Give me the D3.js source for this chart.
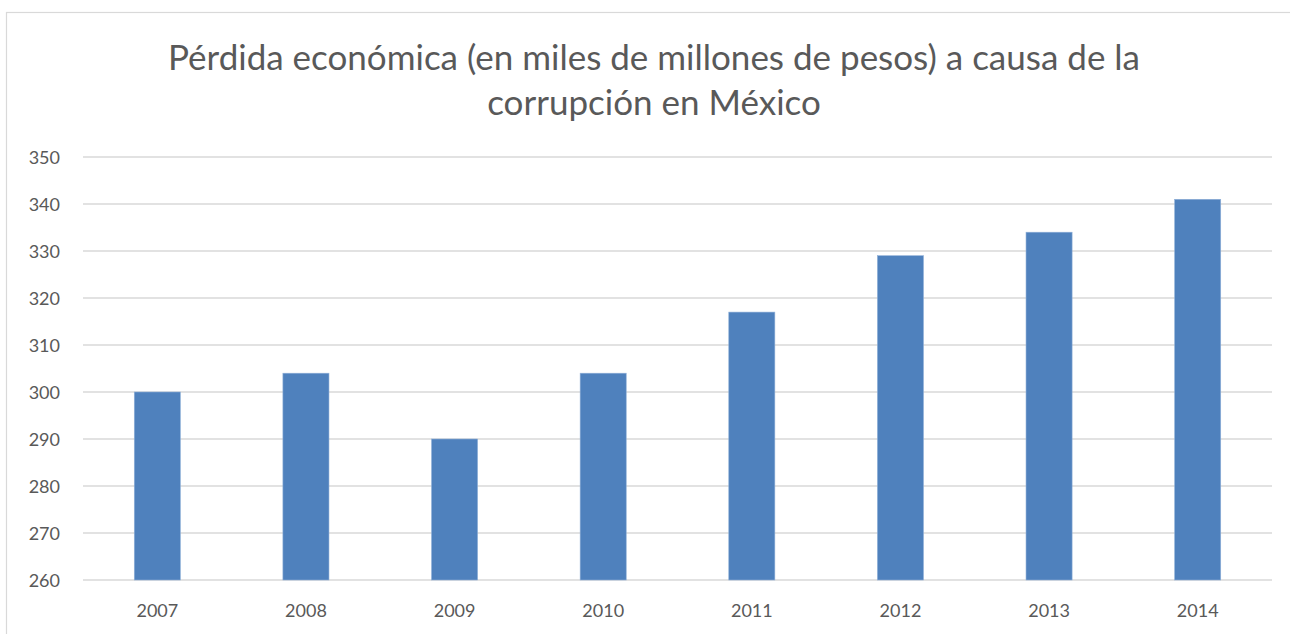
<!DOCTYPE html>
<html>
<head>
<meta charset="utf-8">
<script src="https://cdn.jsdelivr.net/npm/d3@7"></script>
<style>
  body { margin: 0; background: #fff; }
  text { font-family: Lato, "Open Sans", sans-serif; fill: #595959; }
</style>
</head>
<body>
<div id="chart"></div>
<script>
var years = ["2007", "2008", "2009", "2010", "2011", "2012", "2013", "2014"];
var losses = [300, 304, 290, 304, 317, 329, 334, 341];
var yTicks = [260, 270, 280, 290, 300, 310, 320, 330, 340, 350];
var titleLines = ["Pérdida económica (en miles de millones de pesos) a causa de la",
                  "corrupción en México"];

var width = 1290, height = 634;
var plotLeft = 83, plotRight = 1272, plotTop = 157, plotBottom = 580;

var svg = d3.select("#chart")
    .append("svg")
    .attr("width", width)
    .attr("height", height);

// chart frame
svg.append("rect")
    .attr("x", 6.5).attr("y", 12.5)
    .attr("width", 1300).attr("height", 700)
    .attr("fill", "none")
    .attr("stroke", "#d9d9d9")
    .attr("stroke-width", 1.2);

var x = d3.scaleBand().domain(years).range([plotLeft, plotRight]).paddingInner(0.69).paddingOuter(0.345);
var y = d3.scaleLinear().domain([260, 350]).range([plotBottom, plotTop]);

// gridlines
svg.append("g")
    .selectAll("line")
    .data(yTicks)
    .enter()
    .append("line")
    .attr("x1", plotLeft).attr("x2", plotRight)
    .attr("y1", function(d) { return y(d); })
    .attr("y2", function(d) { return y(d); })
    .attr("stroke", "#d9d9d9")
    .attr("stroke-width", 1.5);

// bars
svg.append("g")
    .selectAll("rect")
    .data(years)
    .enter()
    .append("rect")
    .attr("x", function(d) { return x(d); })
    .attr("y", function(d, i) { return y(losses[i]); })
    .attr("width", x.bandwidth())
    .attr("height", function(d, i) { return y(260) - y(losses[i]); })
    .attr("fill", "#4f81bd")
    .attr("stroke", "#8fb0d8")
    .attr("stroke-width", 0.6);

// y axis labels
var yAxis = d3.axisLeft(y).tickValues(yTicks).tickSize(0).tickPadding(0);
var gy = svg.append("g").attr("transform", "translate(60,0)").call(yAxis);
gy.select(".domain").remove();
gy.selectAll("text")
    .style("font-size", "18px")
    .style("font-family", "Lato, 'Open Sans', sans-serif")
    .attr("fill", "#595959")
    .attr("dy", "0.35em");

// x axis labels
var xAxis = d3.axisBottom(x).tickSize(0).tickPadding(0);
var gx = svg.append("g").attr("transform", "translate(0,600)").call(xAxis);
gx.select(".domain").remove();
gx.selectAll("text")
    .style("font-size", "18px")
    .style("font-family", "Lato, 'Open Sans', sans-serif")
    .attr("fill", "#595959")
    .attr("dy", "0.95em");

// title, sized so the first line spans like the original
var title = svg.append("g");
var first = title.append("text")
    .attr("x", 654).attr("y", 70)
    .attr("text-anchor", "middle")
    .style("font-size", "30px")
    .text(titleLines[0]);
var w = first.node().getComputedTextLength();
var fs = 30 * 972 / w;
first.style("font-size", fs + "px");
title.append("text")
    .attr("x", 654).attr("y", 115)
    .attr("text-anchor", "middle")
    .style("font-size", fs + "px")
    .text(titleLines[1]);
</script>
</body>
</html>
